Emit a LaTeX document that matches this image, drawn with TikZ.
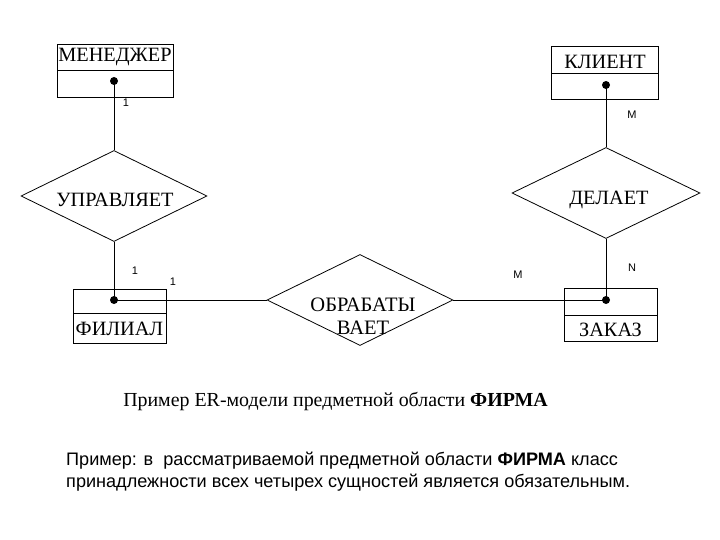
\documentclass[tikz,border=0pt]{standalone}
\usepackage{fontspec}
\setmainfont{Liberation Serif}
\setsansfont{Liberation Sans}
\usetikzlibrary{shapes.geometric,calc}
\begin{document}
\begin{tikzpicture}[x=1pt,y=-1pt,
  ent/.style={draw,line width=0.8pt,minimum width=#1,inner sep=0pt,minimum height=53pt},
  diam/.style={draw,line width=0.8pt,diamond,inner sep=0pt,minimum width=186pt,minimum height=91pt},
  lbl/.style={font=\fontsize{20.3}{20}\selectfont,inner sep=0pt},
  card/.style={font=\sffamily\fontsize{11}{11}\selectfont,inner sep=0pt},
  conn/.style={line width=0.8pt},
  dot/.style={fill=black}]
\useasboundingbox (0,0) rectangle (720,540);
% entities
\node[ent=116pt] (men) at (115,70.5) {};
\node[ent=107pt] (kli) at (604.5,72.5) {};
\node[ent=93pt,minimum height=54pt] (fil) at (119.5,316) {};
\node[ent=93pt] (zak) at (610.5,314.5) {};
\draw[conn] (57,70) -- (173,70);
\draw[conn] (551,73) -- (658,73);
\draw[conn] (73,313) -- (166,313);
\draw[conn] (564,315) -- (657,315);
\node[lbl] (tmen) at (115,57) {МЕНЕДЖЕР};
\node[lbl] (tkli) at (605,62) {КЛИЕНТ};
\node[lbl] (tfil) at (119.5,329) {ФИЛИАЛ};
\node[lbl] (tzak) at (610.5,330) {ЗАКАЗ};
% dots
\coordinate (dmen) at (114,81);
\coordinate (dkli) at (606,85);
\coordinate (dfil) at (114,300);
\coordinate (dzak) at (606,300);
\foreach \c in {dmen,dkli,dfil,dzak} \fill[dot] (\c) circle (4);
% relationships
\node[diam] (upr) at (114,196) {};
\node[diam,minimum width=188pt] (del) at (606,193) {};
\node[diam] (obr) at (360,300) {};
\node[lbl] (tupr) at (115,200) {УПРАВЛЯЕТ};
\node[lbl] (tdel) at (609,200) {ДЕЛАЕТ};
\node[lbl,align=center,font=\fontsize{20.5}{23}\selectfont] (tobr) at (363,316) {ОБРАБАТЫ\\ВАЕТ};
% connectors
\draw[conn] (dmen) -- (upr.north);
\draw[conn] (upr.south) -- (dfil);
\draw[conn] (dkli) -- (del.north);
\draw[conn] (del.south) -- (dzak);
\draw[conn] (dfil) -- (obr.west);
\draw[conn] (obr.east) -- (dzak);
% cardinalities
\node[card] (c1) at (126,103) {1};
\node[card] (c2) at (632,115) {M};
\node[card] (c3) at (135,271) {1};
\node[card] (c4) at (173,282) {1};
\node[card] (c5) at (518,275) {M};
\node[card] (c6) at (632,268) {N};
% captions
\node[font=\fontsize{19.9}{20}\selectfont,inner sep=0pt] (cap) at (335.5,401) {Пример ER-модели предметной области \textbf{ФИРМА}};
\node[font=\sffamily\fontsize{18.1}{22}\selectfont,inner sep=0pt,align=left,anchor=west] (txt) at (66,472) {Пример: в \ рассматриваемой предметной области \textbf{ФИРМА} класс\\принадлежности всех четырех сущностей является обязательным.};
\end{tikzpicture}
\end{document}
